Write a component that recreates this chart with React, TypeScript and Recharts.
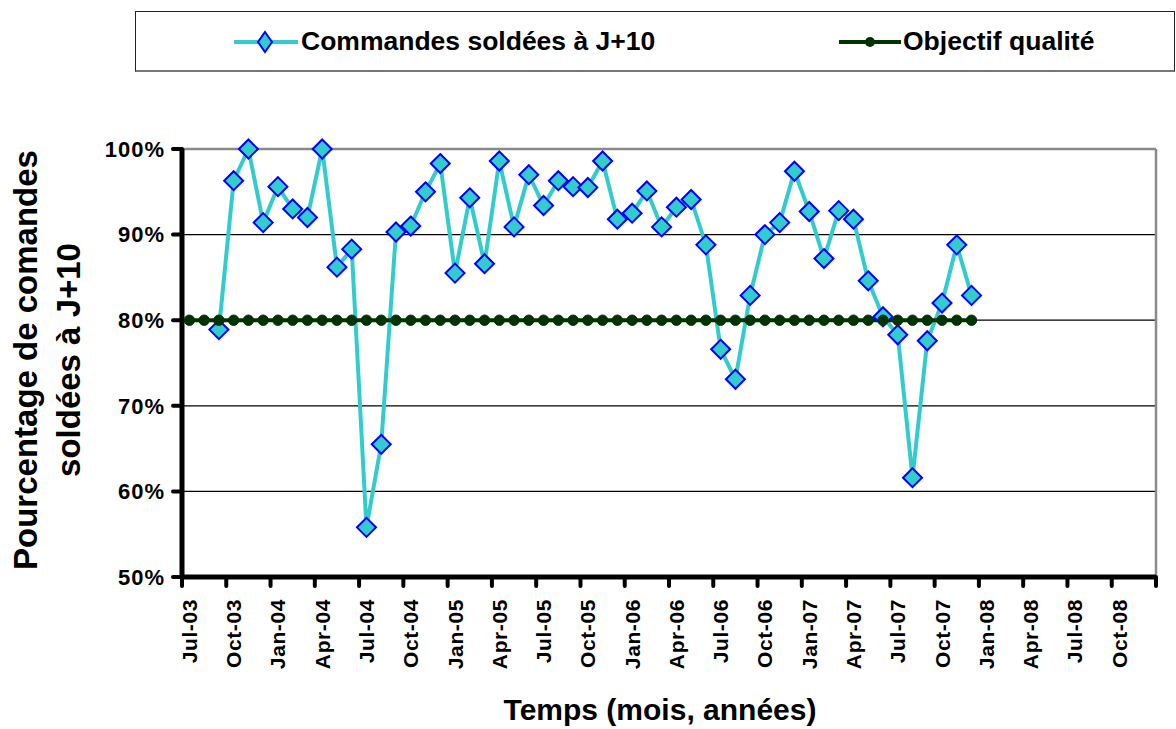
import React from 'react';
import {
  LineChart,
  Line,
  XAxis,
  YAxis,
  CartesianGrid,
  ReferenceLine,
  Legend,
} from 'recharts';

// ---------- DATA ----------
const months = [
  'Jul-03', 'Aug-03', 'Sep-03', 'Oct-03', 'Nov-03', 'Dec-03',
  'Jan-04', 'Feb-04', 'Mar-04', 'Apr-04', 'May-04', 'Jun-04',
  'Jul-04', 'Aug-04', 'Sep-04', 'Oct-04', 'Nov-04', 'Dec-04',
  'Jan-05', 'Feb-05', 'Mar-05', 'Apr-05', 'May-05', 'Jun-05',
  'Jul-05', 'Aug-05', 'Sep-05', 'Oct-05', 'Nov-05', 'Dec-05',
  'Jan-06', 'Feb-06', 'Mar-06', 'Apr-06', 'May-06', 'Jun-06',
  'Jul-06', 'Aug-06', 'Sep-06', 'Oct-06', 'Nov-06', 'Dec-06',
  'Jan-07', 'Feb-07', 'Mar-07', 'Apr-07', 'May-07', 'Jun-07',
  'Jul-07', 'Aug-07', 'Sep-07', 'Oct-07', 'Nov-07', 'Dec-07',
  'Jan-08', 'Feb-08', 'Mar-08', 'Apr-08', 'May-08', 'Jun-08',
  'Jul-08', 'Aug-08', 'Sep-08', 'Oct-08', 'Nov-08', 'Dec-08',
];

// % of orders closed at D+10 (null = no value)
const commandes: (number | null)[] = [
  null, null, 78.9, 96.3, 100.0, 91.4,
  95.6, 93.0, 92.0, 100.0, 86.2, 88.3,
  55.8, 65.5, 90.3, 91.0, 95.0, 98.3,
  85.5, 94.3, 86.6, 98.6, 90.9, 97.0,
  93.4, 96.3, 95.6, 95.5, 98.6, 91.8,
  92.5, 95.1, 90.9, 93.2, 94.1, 88.8,
  76.6, 73.1, 82.9, 90.0, 91.4, 97.4,
  92.7, 87.2, 92.8, 91.8, 84.6, 80.4,
  78.3, 61.6, 77.6, 82.0, 88.8, 82.9,
];

// quality target (%)
const objectif: number[] = [
  80, 80, 80, 80, 80, 80, 80, 80, 80, 80, 80, 80,
  80, 80, 80, 80, 80, 80, 80, 80, 80, 80, 80, 80,
  80, 80, 80, 80, 80, 80, 80, 80, 80, 80, 80, 80,
  80, 80, 80, 80, 80, 80, 80, 80, 80, 80, 80, 80,
  80, 80, 80, 80, 80, 80,
];

const tickLabels = [
  'Jul-03', 'Oct-03', 'Jan-04', 'Apr-04', 'Jul-04', 'Oct-04',
  'Jan-05', 'Apr-05', 'Jul-05', 'Oct-05', 'Jan-06', 'Apr-06',
  'Jul-06', 'Oct-06', 'Jan-07', 'Apr-07', 'Jul-07', 'Oct-07',
  'Jan-08', 'Apr-08', 'Jul-08', 'Oct-08',
];

const yTicks = [50, 60, 70, 80, 90, 100];

const seriesNames = ['Commandes soldées à J+10', 'Objectif qualité'];
const yTitle = ['Pourcentage de comandes', 'soldées à J+10'];
const xTitle = 'Temps (mois, années)';

// ---------- LAYOUT ----------
const W = 1176;
const H = 729;
const LEFT = 182;
const RIGHT = 20;
const TOP = 149;
const XAXIS_H = 152;
const MONTH_W = (W - LEFT - RIGHT) / months.length;
const FONT = '"Liberation Sans", Arial, sans-serif';

const CYAN = '#33CCCC';
const BLUE = '#0000FF';
const GREEN = '#003300';

const data = months.map((m, i) => ({
  idx: i,
  month: m,
  commandes: commandes[i] ?? null,
  objectif: objectif[i] ?? null,
}));

const xTicks = [...tickLabels.map((_, k) => k * 3 - 0.5), months.length - 0.5];

const Diamond = (props: any) => {
  const { cx, cy, index } = props;
  if (cx == null || cy == null || props.value == null) return <g key={`d${index}`} />;
  const r = 9.5;
  return (
    <polygon
      key={`d${index}`}
      points={`${cx},${cy - r} ${cx + r},${cy} ${cx},${cy + r} ${cx - r},${cy}`}
      fill={CYAN}
      stroke={BLUE}
      strokeWidth={2}
    />
  );
};

const GreenDot = (props: any) => {
  const { cx, cy, index } = props;
  if (cx == null || cy == null || props.value == null) return <g key={`g${index}`} />;
  return <circle key={`g${index}`} cx={cx} cy={cy} r={5.2} fill={GREEN} stroke={GREEN} strokeWidth={1} />;
};

const XTick = (props: any) => {
  const { x, y, payload } = props;
  const k = Math.round((payload.value + 0.5) / 3);
  if (k >= tickLabels.length) return <g />;
  const lx = x + MONTH_W / 2;
  const ly = y + 11;
  return (
    <text
      x={lx}
      y={ly}
      dy="0.36em"
      transform={`rotate(-90, ${lx}, ${ly})`}
      textAnchor="end"
      fontFamily={FONT}
      fontWeight="bold"
      fontSize={21}
      letterSpacing={0.6}
      fill="#000"
    >
      {tickLabels[k]}
    </text>
  );
};

const YTitle = (props: any) => {
  const vb = props.viewBox || { x: 0, y: TOP, width: LEFT, height: 428 };
  const cy = vb.y + vb.height / 2 - 3;
  const baselines = [37, 80];
  return (
    <g>
      {yTitle.map((t, i) => {
        const cx = baselines[i];
        return (
          <text
            key={i}
            x={cx}
            y={cy}
            transform={`rotate(-90, ${cx}, ${cy})`}
            textAnchor="middle"
            fontFamily={FONT}
            fontWeight="bold"
            fontSize={33}
            fill="#000"
          >
            {t}
          </text>
        );
      })}
    </g>
  );
};

const XTitle = (props: any) => {
  const vb = props.viewBox || { x: LEFT, y: 577, width: W - LEFT - RIGHT, height: XAXIS_H };
  const cx = vb.x + vb.width / 2 - 9;
  return (
    <text
      x={cx}
      y={720}
      textAnchor="middle"
      fontFamily={FONT}
      fontWeight="bold"
      fontSize={30}
      fill="#000"
    >
      {xTitle}
    </text>
  );
};

const LegendBox = () => (
  <div
    style={{
      position: 'relative',
      width: 1040,
      height: 61,
      border: '1px solid #222',
      borderBottom: '2px solid #777',
      boxSizing: 'border-box',
      background: '#fff',
      fontFamily: FONT,
      fontWeight: 'bold',
      fontSize: 26.5,
      color: '#000',
    }}
  >
    <svg style={{ position: 'absolute', left: 97, top: 18 }} width={66} height={24}>
      <line x1={1} y1={12} x2={65} y2={12} stroke={CYAN} strokeWidth={4} />
      <polygon points="32,2 39,12 32,22 25,12" fill={CYAN} stroke={BLUE} strokeWidth={2} />
    </svg>
    <div style={{ position: 'absolute', left: 165, top: 14, whiteSpace: 'nowrap', lineHeight: '30px' }}>
      {seriesNames[0]}
    </div>
    <svg style={{ position: 'absolute', left: 702, top: 18 }} width={64} height={24}>
      <line x1={1} y1={12} x2={63} y2={12} stroke={GREEN} strokeWidth={4} />
      <circle cx={32} cy={12} r={5} fill={GREEN} />
    </svg>
    <div style={{ position: 'absolute', left: 767, top: 14, whiteSpace: 'nowrap', lineHeight: '30px' }}>
      {seriesNames[1]}
    </div>
  </div>
);

export default function App() {
  return (
    <div style={{ position: 'absolute', left: 0, top: 0, background: '#fff' }}>
      <LineChart
        width={W}
        height={H}
        data={data}
        margin={{ top: TOP, right: RIGHT, bottom: 0, left: 0 }}
      >
        <CartesianGrid horizontal vertical={false} stroke="#000" strokeWidth={1.2} />
        <ReferenceLine y={100} stroke="#8a8a8a" strokeWidth={2.5} />
        <ReferenceLine x={months.length - 0.5} stroke="#8a8a8a" strokeWidth={2.5} />
        <XAxis
          dataKey="idx"
          type="number"
          domain={[-0.5, months.length - 0.5]}
          ticks={xTicks}
          interval={0}
          height={XAXIS_H}
          axisLine={{ stroke: '#000', strokeWidth: 5 }}
          tickLine={{ stroke: '#000', strokeWidth: 4, strokeLinecap: 'round' }}
          tickSize={9}
          tick={<XTick />}
          label={<XTitle />}
        />
        <YAxis
          type="number"
          domain={[50, 100]}
          ticks={yTicks}
          interval={0}
          width={LEFT}
          axisLine={{ stroke: '#000', strokeWidth: 5 }}
          tickLine={{ stroke: '#000', strokeWidth: 4, strokeLinecap: 'round' }}
          tickSize={9}
          tickMargin={8}
          tickFormatter={(v: number) => `${v}%`}
          tick={{ fontFamily: FONT, fontWeight: 'bold', fontSize: 22, fill: '#000', letterSpacing: 1 }}
          label={<YTitle />}
        />
        <Legend
          layout="horizontal"
          verticalAlign="middle"
          align="center"
          content={<LegendBox />}
          wrapperStyle={{ top: 11, left: 135, width: 1040, height: 61 }}
        />
        <Line
          type="linear"
          dataKey="commandes"
          name={seriesNames[0]}
          stroke={CYAN}
          strokeWidth={4}
          dot={(p: any) => <Diamond {...p} />}
          activeDot={false}
          isAnimationActive={false}
        />
        <Line
          type="linear"
          dataKey="objectif"
          name={seriesNames[1]}
          stroke={GREEN}
          strokeWidth={4}
          dot={(p: any) => <GreenDot {...p} />}
          activeDot={false}
          isAnimationActive={false}
        />
      </LineChart>
    </div>
  );
}
